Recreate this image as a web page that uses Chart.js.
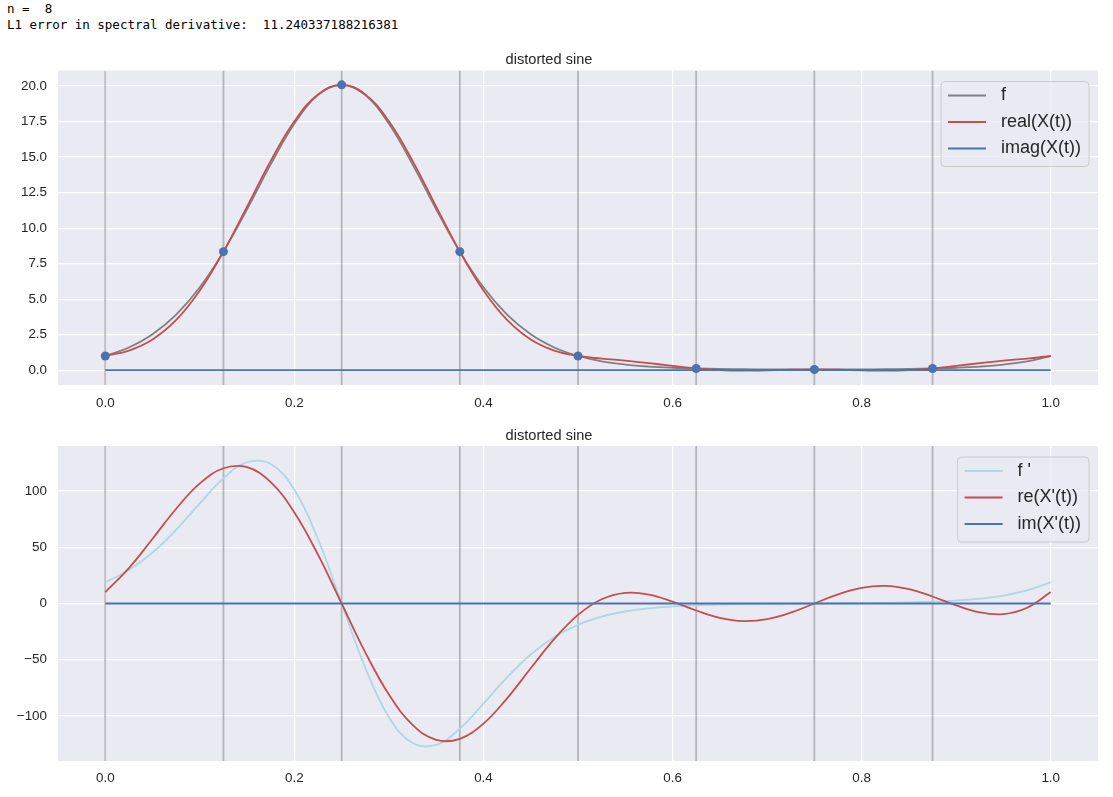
<!DOCTYPE html>
<html>
<head>
<meta charset="utf-8">
<script src="https://cdn.jsdelivr.net/npm/chart.js@4.4.1/dist/chart.umd.min.js"></script>
<style>
  body { margin: 0; background: #fff; width: 1113px; height: 797px; position: relative; overflow: hidden; }
  pre { position: absolute; left: 7px; top: 1px; margin: 0; font-family: "DejaVu Sans Mono", monospace; font-size: 12.5px; line-height: 16px; color: #000; }
  canvas { position: absolute; left: 0; }
</style>
</head>
<body>
<pre>n =  8
L1 error in spectral derivative:  11.240337188216381</pre>
<canvas id="topChart" width="1113" height="380" style="top:40px"></canvas>
<canvas id="bottomChart" width="1113" height="377" style="top:420px"></canvas>
<script>
// sample grid (t in [0, 1])
const tVals = [0, 0.025, 0.05, 0.075, 0.1, 0.125, 0.15, 0.175, 0.2, 0.225, 0.25,
  0.275, 0.3, 0.325, 0.35, 0.375, 0.4, 0.425, 0.45, 0.475, 0.5,
  0.525, 0.55, 0.575, 0.6, 0.625, 0.65, 0.675, 0.7, 0.725, 0.75,
  0.775, 0.8, 0.825, 0.85, 0.875, 0.9, 0.925, 0.95, 0.975, 1];

// top plot: f, real(X(t)), imag(X(t))
const fVals = [1.000, 1.599, 2.527, 3.904, 5.832, 8.343, 11.326, 14.485, 17.345, 19.361, 20.086,
  19.361, 17.345, 14.485, 11.326, 8.343, 5.832, 3.904, 2.527, 1.599, 1.000,
  0.625, 0.396, 0.256, 0.172, 0.120, 0.088, 0.069, 0.058, 0.052, 0.050,
  0.052, 0.058, 0.069, 0.088, 0.120, 0.172, 0.256, 0.396, 0.625, 1.000];
const reX = [1.000, 1.382, 2.162, 3.535, 5.609, 8.343, 11.512, 14.729, 17.516, 19.413, 20.086,
  19.413, 17.516, 14.729, 11.512, 8.343, 5.609, 3.535, 2.162, 1.382, 1.000,
  0.813, 0.670, 0.498, 0.300, 0.120, 0.002, -0.036, -0.012, 0.030, 0.050,
  0.030, -0.012, -0.036, 0.002, 0.120, 0.300, 0.498, 0.670, 0.813, 1.000];
const imX = [0, 0, 0, 0, 0, 0, 0, 0, 0, 0, 0, 0, 0, 0, 0, 0, 0, 0, 0, 0, 0,
  0, 0, 0, 0, 0, 0, 0, 0, 0, 0, 0, 0, 0, 0, 0, 0, 0, 0, 0, 0];

// bottom plot: f', re(X'(t)), im(X'(t))
const dfVals = [18.85, 29.77, 45.30, 65.57, 88.94, 111.20, 125.49, 123.96, 101.03, 57.09, 0,
  -57.09, -101.03, -123.96, -125.49, -111.20, -88.94, -65.57, -45.30, -29.77, -18.85,
  -11.64, -7.09, -4.30, -2.62, -1.60, -0.98, -0.59, -0.34, -0.15, 0,
  0.15, 0.34, 0.59, 0.98, 1.60, 2.62, 4.30, 7.09, 11.64, 18.85];
const reDX = [10.13, 31.44, 57.51, 84.21, 106.67, 120.16, 121.10, 107.80, 80.91, 43.37, 0,
  -43.37, -80.91, -107.80, -121.10, -120.16, -106.67, -84.21, -57.51, -31.44, -10.13,
  3.78, 9.47, 7.97, 1.70, -6.21, -12.73, -15.61, -13.93, -8.16, 0,
  8.16, 13.93, 15.61, 12.73, 6.21, -1.70, -7.97, -9.47, -3.78, 10.13];
const imDX = [0, 0, 0, 0, 0, 0, 0, 0, 0, 0, 0, 0, 0, 0, 0, 0, 0, 0, 0, 0, 0,
  0, 0, 0, 0, 0, 0, 0, 0, 0, 0, 0, 0, 0, 0, 0, 0, 0, 0, 0, 0];

// interpolation nodes
const sampleT = [0, 0.125, 0.25, 0.375, 0.5, 0.625, 0.75, 0.875];
const sampleF = [1.000, 8.343, 20.086, 8.343, 1.000, 0.120, 0.050, 0.120];

// ticks
const xTicks = [0, 0.2, 0.4, 0.6, 0.8, 1.0];
const yTicksTop = [0, 2.5, 5, 7.5, 10, 12.5, 15, 17.5, 20];
const yTicksBottom = [-100, -50, 0, 50, 100];

const FONT = '"Liberation Sans", Arial, sans-serif';
const TEXT = '#262626';
Chart.defaults.font.family = FONT;
Chart.defaults.color = TEXT;

const pts = (xs, ys) => xs.map((x, i) => ({ x: x, y: ys[i] }));

// grey plot background
const plotBg = {
  id: 'plotBg',
  beforeDraw(chart) {
    const { ctx, chartArea: a } = chart;
    ctx.save();
    ctx.fillStyle = '#eaeaf2';
    ctx.fillRect(a.left, a.top, a.width, a.height);
    ctx.restore();
  }
};

// matplotlib-like legend in the upper right corner of the plot
const legendBox = {
  id: 'legendBox',
  afterDatasetsDraw(chart, args, o) {
    const ctx = chart.ctx, a = chart.chartArea;
    ctx.save();
    ctx.font = '18px ' + FONT;
    const textW = Math.max(...o.items.map(it => ctx.measureText(it.label).width));
    const w = 7 + 38 + 15 + textW + 8, h = 85;
    const x = a.right - 9 - w, y = a.top + 11;
    ctx.beginPath();
    ctx.roundRect(x, y, w, h, 4);
    ctx.fillStyle = 'rgba(234,234,242,0.8)';
    ctx.fill();
    ctx.strokeStyle = '#cccccc';
    ctx.lineWidth = 1;
    ctx.stroke();
    o.items.forEach((it, i) => {
      const cy = y + 14 + i * 26.5;
      ctx.strokeStyle = it.color;
      ctx.lineWidth = 2;
      ctx.beginPath();
      ctx.moveTo(x + 7, cy);
      ctx.lineTo(x + 45, cy);
      ctx.stroke();
      ctx.fillStyle = TEXT;
      ctx.textBaseline = 'middle';
      ctx.fillText(it.label, x + 60, cy);
    });
    ctx.restore();
  }
};

function makeChart(id, cfg) {
  const curves = cfg.curves.map(c => ({
    label: c.label,
    data: pts(tVals, c.values),
    borderColor: c.color,
    borderWidth: 1.8,
    pointRadius: 0,
    tension: 0.4,
    order: c.order
  }));
  const vlines = sampleT.map(x => ({
    data: [{ x: x, y: cfg.yMin }, { x: x, y: cfg.yMax }],
    borderColor: 'rgba(128,128,128,0.5)',
    borderWidth: 1.8,
    pointRadius: 0,
    tension: 0,
    order: 10
  }));
  const datasets = vlines.concat(curves);
  if (cfg.dots) {
    datasets.push({
      data: pts(sampleT, cfg.dots),
      showLine: false,
      pointRadius: 4.5,
      pointBackgroundColor: '#4C72B0',
      pointBorderWidth: 0,
      order: 0
    });
  }
  return new Chart(document.getElementById(id), {
    type: 'line',
    data: { datasets: datasets },
    plugins: [plotBg, legendBox],
    options: {
      responsive: false,
      animation: false,
      devicePixelRatio: 1,
      layout: { padding: { left: 0, right: 15, top: 0, bottom: 0 } },
      plugins: {
        legend: { display: false },
        tooltip: { enabled: false },
        title: {
          display: true,
          text: 'distorted sine',
          color: TEXT,
          font: { size: 14.6, weight: 'normal' },
          padding: cfg.titlePad
        },
        legendBox: { items: cfg.curves.map(c => ({ label: c.label, color: c.color })) }
      },
      scales: {
        x: {
          type: 'linear',
          min: -0.05,
          max: 1.05,
          afterBuildTicks: s => { s.ticks = xTicks.map(v => ({ value: v })); },
          afterFit: s => { s.height = cfg.xHeight; },
          grid: { color: '#ffffff', lineWidth: 1.2, drawTicks: false },
          border: { display: false },
          ticks: { padding: cfg.xPad, font: { size: 13.4 }, color: TEXT, maxRotation: 0, autoSkip: false,
                   callback: v => v.toFixed(1) }
        },
        y: {
          min: cfg.yMin,
          max: cfg.yMax,
          afterBuildTicks: s => { s.ticks = cfg.yTicks.map(v => ({ value: v })); },
          afterFit: s => { s.width = 58; },
          grid: { color: '#ffffff', lineWidth: 1.2, drawTicks: false },
          border: { display: false },
          ticks: { padding: 11, font: { size: 13.4 }, color: TEXT, autoSkip: false, callback: cfg.yFmt }
        }
      }
    }
  });
}

makeChart('topChart', {
  curves: [
    { label: 'f', values: fVals, color: '#808080', order: 3 },
    { label: 'real(X(t))', values: reX, color: '#C44E52', order: 2 },
    { label: 'imag(X(t))', values: imX, color: '#4C72B0', order: 1 }
  ],
  dots: sampleF,
  yMin: -1.042,
  yMax: 21.092,
  yTicks: yTicksTop,
  yFmt: v => v.toFixed(1),
  titlePad: { top: 11, bottom: 2 },
  xHeight: 35,
  xPad: 10
});

makeChart('bottomChart', {
  curves: [
    { label: "f '", values: dfVals, color: '#ADD8E6', order: 3 },
    { label: "re(X'(t))", values: reDX, color: '#C44E52', order: 2 },
    { label: "im(X'(t))", values: imDX, color: '#4C72B0', order: 1 }
  ],
  yMin: -139.9,
  yMax: 139.9,
  yTicks: yTicksBottom,
  yFmt: v => (v < 0 ? '\u2212' + Math.abs(v) : String(v)),
  titlePad: { top: 7, bottom: 1.5 },
  xHeight: 36,
  xPad: 9
});
</script>
</body>
</html>
